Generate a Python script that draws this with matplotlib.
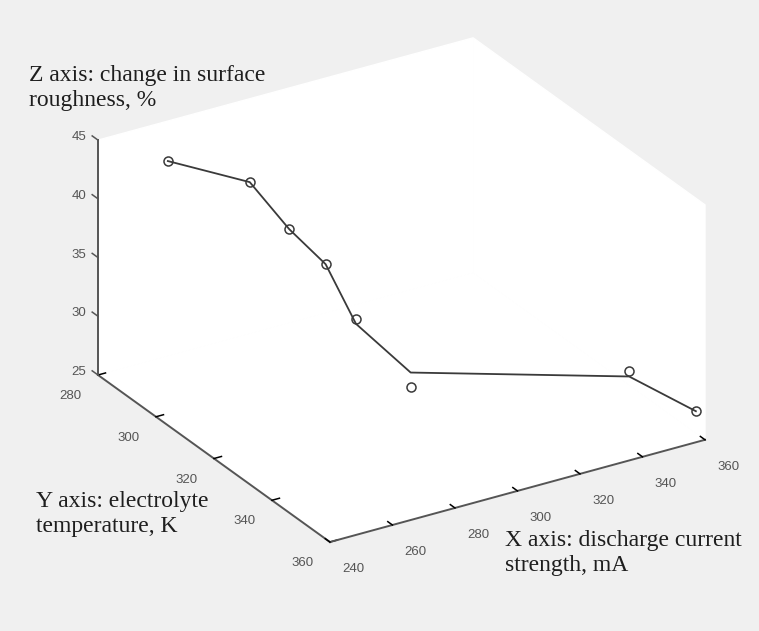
import numpy as np
import matplotlib
matplotlib.use("Agg")
import matplotlib.pyplot as plt
from mpl_toolkits.mplot3d import proj3d

# data (temperature, K / current, mA / roughness change, %)
temperature = [289, 300, 305, 310, 314, 321, 350, 359]
current = [254, 270, 278, 285, 291, 302, 345, 358]
rough_points = [43.8, 42.8, 39.1, 36.5, 32.1, 26.8, 30.2, 27.4]
rough_line = [43.8, 42.8, 39.1, 36.5, 31.7, 28.0, 29.7, 27.4]

temp_ticks = [280, 300, 320, 340, 360]
curr_ticks = [240, 260, 280, 300, 320, 340, 360]
z_ticks = [25, 30, 35, 40, 45]

W, H = 759, 631
bg = "#f0f0f0"
dark = "#3a3a3a"
axcol = "#555555"
tickfont = dict(family="Liberation Sans", fontsize=9.5, color="#555555")

fig = plt.figure(figsize=(W / 100, H / 100), dpi=100, facecolor=bg)
ax = fig.add_axes([0.05, 0.05, 0.9, 0.9], projection="3d", proj_type="ortho")
ax.set_facecolor("none")
ax.view_init(elev=26.3, azim=-31.6)
ax.set_box_aspect((1.0, 0.995, 0.592))

ax.plot(temperature, current, rough_line, color=dark, lw=1.3)
ax.plot(temperature, current, rough_points, ls="none", marker="o", ms=6.5,
        mfc="none", mec=dark, mew=1.1)

ax.set_xlim(280, 360, view_margin=0)
ax.set_ylim(240, 360, view_margin=0)
ax.set_zlim(25, 45, view_margin=0)
ax.set_xticks(temp_ticks)
ax.set_yticks(curr_ticks)
ax.set_zticks([])
ax.grid(False)

for axis in (ax.xaxis, ax.yaxis, ax.zaxis):
    axis.set_pane_color((1, 1, 1, 1))
    axis.pane.set_edgecolor("white")
    axis.line.set_color(axcol)
    axis.line.set_linewidth(1.4)
    axis._axinfo["tick"]["inward_factor"] = 0.0
    axis._axinfo["tick"]["outward_factor"] = 0.25
    axis._axinfo["tick"]["color"] = axcol
    axis._axinfo["tick"]["linewidth"] = {True: 1.1, False: 0.5}
    axis.label.set_visible(False)
    axis.get_offset_text().set_visible(False)
ax.zaxis.line.set_visible(False)
ax.tick_params(axis="x", labelsize=9.5, labelcolor="#555555", pad=3)
ax.tick_params(axis="y", labelsize=9.5, labelcolor="#555555", pad=5)
for lab in ax.get_xticklabels():
    lab.set_fontfamily("Liberation Sans")
    lab.set_horizontalalignment("right")
for lab in ax.get_yticklabels():
    lab.set_fontfamily("Liberation Sans")
    lab.set_horizontalalignment("left")

# z axis sits on the left corner in the original, draw it there
ax.plot([280, 280], [240, 240], [z_ticks[0], z_ticks[-1]], color=axcol, lw=1.4)
for z in z_ticks:
    ax.plot([280, 278], [240, 240], [z, z], color=axcol, lw=1.1)

# fit the projected box onto the reference pixel positions
fig.canvas.draw()


def to_px(x, y, z):
    xs, ys, _ = proj3d.proj_transform(x, y, z, ax.get_proj())
    return np.array(ax.transData.transform((xs, ys)))


target_a = np.array([98, H - 375])
target_b = np.array([705, H - 440])
pa = to_px(280, 240, 25)
pb = to_px(360, 360, 25)
pos = ax.get_position()
x0, y0, w, h = pos.x0 * W, pos.y0 * H, pos.width * W, pos.height * H
s = np.linalg.norm(target_b - target_a) / np.linalg.norm(pb - pa)
new0 = target_a - (pa - np.array([x0, y0])) * s
ax.set_position([new0[0] / W, new0[1] / H, w * s / W, h * s / H])

# z tick labels as plain figure text next to the projected tick positions
for z in z_ticks:
    px, py = to_px(280, 240, z)
    fig.text((px - 12) / W, (py + 3) / H, str(z), ha="right", va="center", **tickfont)

lab_kw = dict(family="Liberation Serif", fontsize=17, color="#1e1e1e",
              linespacing=1.25, va="baseline", ha="left")
fig.text(29 / W, 1 - 106 / H, "Z axis: change in surface\nroughness, %", **lab_kw)
fig.text(36 / W, 1 - 532 / H, "Y axis: electrolyte\ntemperature, K", **lab_kw)
fig.text(505 / W, 1 - 571 / H, "X axis: discharge current\nstrength, mA", **lab_kw)

fig.savefig("out.png", dpi=100, facecolor=bg)
